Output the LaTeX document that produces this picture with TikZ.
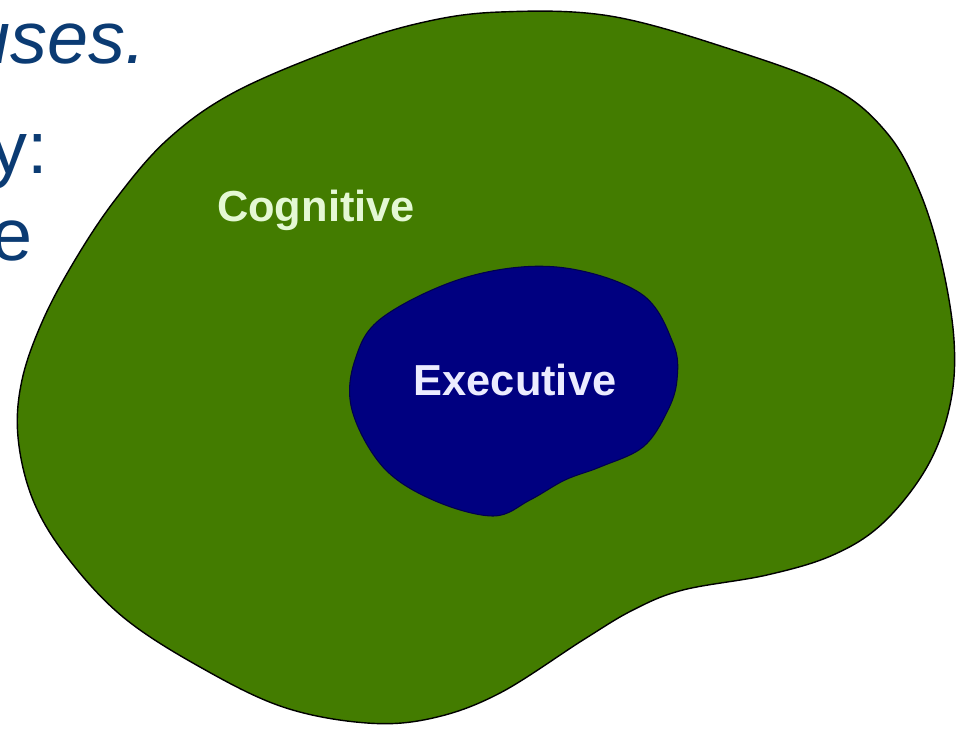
\documentclass[tikz,border=0pt]{standalone}
\usepackage{fontspec}
\setmainfont{Liberation Sans}
\definecolor{brain}{HTML}{437C00}
\definecolor{core}{HTML}{000080}
\definecolor{slide}{HTML}{0B3B73}
\definecolor{cogtext}{HTML}{E4F8D4}
\definecolor{exectext}{HTML}{ECECFF}

\begin{document}
\begin{tikzpicture}[x = 0.02cm, y = -0.02cm,
  slidetext/.style = {text=slide, font=\fontsize{42}{48}\selectfont, inner sep=0pt, anchor=base east},
  region/.style = {font=\bfseries\fontsize{24.7}{28}\selectfont, inner sep=0pt, anchor=base}]

\useasboundingbox (0,0) rectangle (965,728);
\clip (0,0) rectangle (965,728);

% cut-off slide text on the left
\node [slidetext, font=\itshape\fontsize{42}{48}\selectfont] (uses) at (146,63) {uses.};
\node [slidetext] (lineY) at (48,173) {y:};
\node [slidetext] (lineE) at (33,260) {e};

% outer region
\draw [fill=brain, line width=0.8pt] plot [smooth cycle, tension=0.6] coordinates {
  (420,23) (500,12) (610,16) (733,50) (833,88) (887,133) (919,190) (941,260)
  (954,340) (950,405) (927,467) (883,523) (833,555) (767,575) (683,590)
  (633,610) (583,640) (500,693) (433,718) (367,723) (283,707) (200,667)
  (123,617) (67,557) (33,500) (18,437) (22,380) (43,320) (75,260) (115,200)
  (167,140) (233,93) (333,50)};

% inner region
\draw [fill=core, draw=core!60!black, line width=0.6pt] plot [smooth cycle, tension=0.6] coordinates {
  (467,277) (557,267) (640,293) (673,343) (677,380) (667,412) (643,447)
  (600,467) (565,480) (530,500) (493,516) (433,500) (383,467) (352,410)
  (355,360) (383,317)};

\node [region, text=cogtext] (cognitive) at (316,221) {Cognitive};
\node [region, text=exectext] (executive) at (515,395) {Executive};

\end{tikzpicture}
\end{document}
